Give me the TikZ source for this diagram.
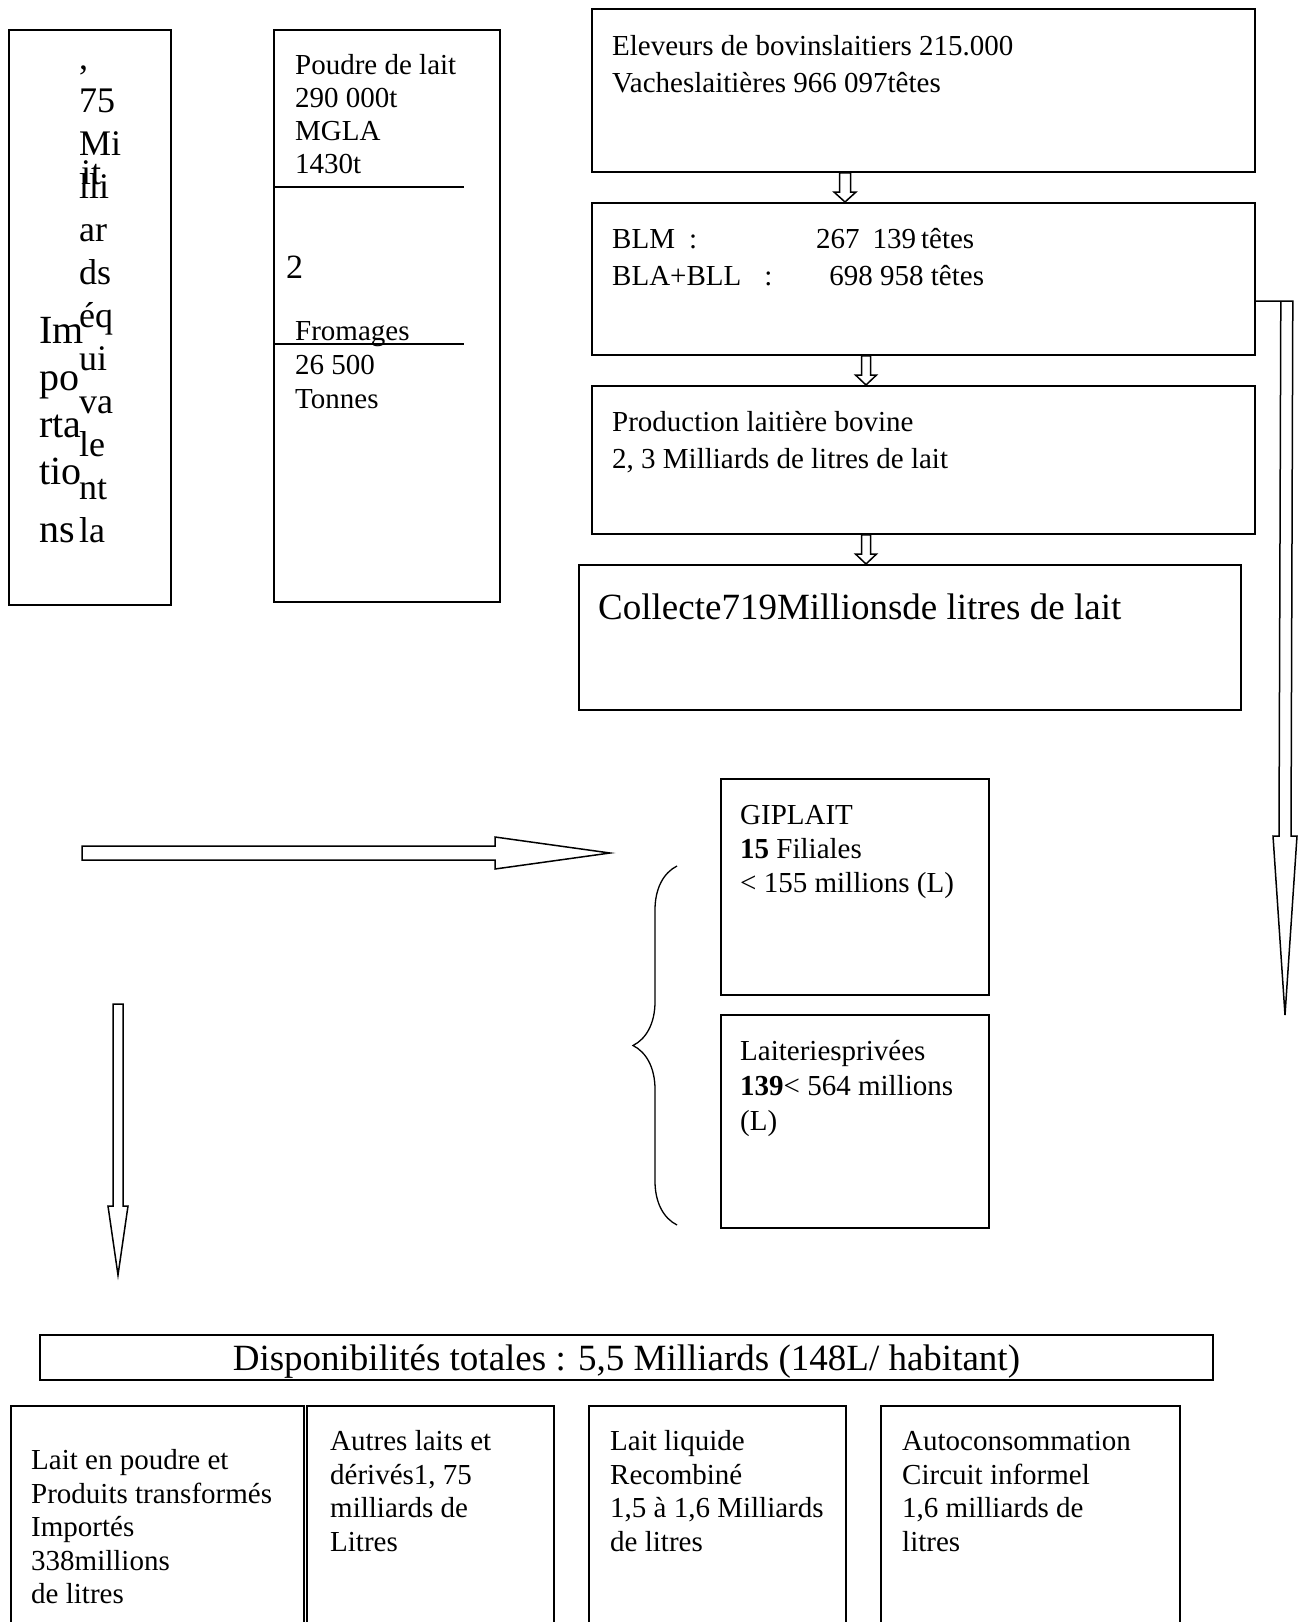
\documentclass[tikz,border=0pt]{standalone}
\usepackage{fontspec}
\setmainfont{Liberation Serif}
\usetikzlibrary{calc,decorations.pathreplacing}

\newcommand{\hollowdown}[5]{%
  \draw[arrowline] ($(#1)+(-#3,0)$) -- ($(#2)+(-#3,-#5)$) -- ($(#2)+(-#4,-#5)$) -- (#2)
    -- ($(#2)+(#4,-#5)$) -- ($(#2)+(#3,-#5)$) -- ($(#1)+(#3,0)$) -- cycle;}
\newcommand{\hollowright}[5]{%
  \draw[arrowline] ($(#1)+(0,-#3)$) -- ($(#2)+(-#5,-#3)$) -- ($(#2)+(-#5,-#4)$) -- (#2)
    -- ($(#2)+(-#5,#4)$) -- ($(#2)+(-#5,#3)$) -- ($(#1)+(0,#3)$) -- cycle;}

\begin{document}
\begin{tikzpicture}[x=1pt, y=-1pt,
		box/.style={draw, line width=1.8pt, inner sep=0pt, anchor=north west},
		txt/.style={inner sep=0pt, anchor=north west, align=left},
		arrowline/.style={line width=1.5pt}]
		\useasboundingbox (0,0) rectangle (1306,1622);

		\node[box, minimum width=162, minimum height=575] (imp) at (8,29) {};
		\node[txt, font=\fontsize{40}{47}\selectfont] (impa) at ($(imp.north west)+(31,281)$) {\strut Im\\po\\rta\\tio\\[11pt]ns};
		\node[txt, font=\fontsize{36}{43}\selectfont] (impb) at ($(imp.north west)+(71,10)$) {\strut ,\\75\\Mi\\lli\\ar\\ds\\éq\\ui\\va\\le\\nt\\la};
		\node[inner sep=0pt, anchor=base west, font=\fontsize{36}{43}\selectfont] (impit) at ($(imp.north west)+(73,155)$) {it};

		\node[box, minimum width=226, minimum height=572] (poudre) at (273,29) {};
		\node[txt, font=\fontsize{29}{33}\selectfont] (pltxt) at ($(poudre.north west)+(22,22)$) {\strut Poudre de lait\\290 000t\\MGLA\\1430t};
		\node[inner sep=0pt, anchor=base west, font=\fontsize{34}{40}\selectfont] (deux) at ($(poudre.north west)+(13,249)$) {2};
		\node[txt, font=\fontsize{29}{34}\selectfont] (fromtxt) at ($(poudre.north west)+(22,287)$) {\strut Fromages\\26 500\\Tonnes};
		\draw[line width=1.5pt] ($(poudre.north west)+(0,158)$) -- ++(191,0);
		\draw[line width=1.5pt] ($(poudre.north west)+(0,315)$) -- ++(191,0);

		\node[box, minimum width=663, minimum height=163] (elev) at (591,8) {};
		\node[txt, font=\fontsize{29}{37}\selectfont] (elevtxt) at ($(elev.north west)+(21,21)$) {\strut Eleveurs de bovinslaitiers 215.000\\Vacheslaitières 966 097têtes};
		\node[box, minimum width=663, minimum height=152] (blm) at (591,202) {};
		\node[txt, font=\fontsize{29}{37}\selectfont] (blmtxt) at ($(blm.north west)+(21,20)$) {\strut BLM\hspace{14pt}:\hspace{119pt}267\hspace{13pt}139\hspace{5pt}têtes\\BLA+BLL\hspace{23pt}:\hspace{57pt}698 958 têtes};
		\node[box, minimum width=663, minimum height=148] (prod) at (591,385) {};
		\node[txt, font=\fontsize{29}{37}\selectfont] (prodtxt) at ($(prod.north west)+(21,20)$) {\strut Production laitière bovine\\2, 3 Milliards de litres de lait};
		\node[box, minimum width=662, minimum height=145] (coll) at (578,564) {};
		\node[inner sep=0pt, anchor=base west, font=\fontsize{37}{44}\selectfont] (colltxt) at ($(coll.north west)+(20,55)$) {Collecte719Millionsde litres de lait};

		\coordinate (a1s) at ($(elev.south west)+(254,0)$);
		\coordinate (a1t) at ($(blm.north west)+(254,0)$);
		\coordinate (a2s) at ($(blm.south west)+(275,0)$);
		\coordinate (a2t) at ($(prod.north west)+(275,0)$);
		\coordinate (a3s) at ($(prod.south west)+(275,0)$);
		\coordinate (a3t) at ($(coll.north west)+(288,0)$);
		\hollowdown{a1s}{a1t}{5.5}{11}{10}
		\hollowdown{a2s}{a2t}{4.5}{10.5}{10}
		\hollowdown{a3s}{a3t}{4.5}{10.5}{10}

		\coordinate (rtop) at ($(blm.north east)+(0,99)$);
		\coordinate (rtip) at (1285,1015);
		\draw[arrowline] (rtop) -- ($(rtop)+(37,0)$) -- ($(rtip)+(6,-179)$) -- ($(rtip)+(12,-179)$) -- (rtip)
			-- ($(rtip)+(-12,-179)$) -- ($(rtip)+(-6,-179)$) -- ($(rtop)+(25,0)$);

		\node[box, minimum width=268, minimum height=216] (gip) at (720,778) {};
		\node[txt, font=\fontsize{29}{34}\selectfont] (giptxt) at ($(gip.north west)+(20,22)$) {\strut GIPLAIT\\\textbf{15} Filiales\\< 155 millions (L)};
		\node[box, minimum width=268, minimum height=213] (priv) at (720,1014) {};
		\node[txt, font=\fontsize{29}{35}\selectfont] (privtxt) at ($(priv.north west)+(20,22)$) {\strut Laiteriesprivées\\\textbf{139}< 564 millions\\(L)};
		\draw[line width=1.3pt, decorate, decoration={brace, amplitude=44pt}] (677,1225) -- (677,866);

		\coordinate (hstart) at (82,853);
		\coordinate (htip) at (610,853);
		\hollowright{hstart}{htip}{7}{16}{115}
		\coordinate (ldstart) at (118,1004);
		\coordinate (ldtip) at (118,1275);
		\hollowdown{ldstart}{ldtip}{5}{10}{69}

		\node[box, minimum width=1173, minimum height=45] (dispo) at (39,1334) {};
		\node[inner sep=0pt, anchor=base, font=\fontsize{37}{44}\selectfont] (dispotxt) at ($(dispo.south)+(0,-10)$) {Disponibilités totales : 5,5 Milliards (148L/ habitant)};

		\node[box, minimum width=293, minimum height=240] (impt) at (10,1405) {};
		\node[txt, font=\fontsize{29}{33.5}\selectfont] (impttxt) at ($(impt.north west)+(21,41)$) {\strut Lait en poudre et\\Produits transformés\\Importés\\338millions\\de litres};
		\node[box, minimum width=247, minimum height=240] (autres) at (306,1405) {};
		\node[txt, font=\fontsize{29}{33.5}\selectfont] (autrestxt) at ($(autres.north west)+(24,22)$) {\strut Autres laits et\\dérivés1, 75\\milliards de\\Litres};
		\node[box, minimum width=257, minimum height=240] (liq) at (588,1405) {};
		\node[txt, font=\fontsize{29}{33.5}\selectfont] (liqtxt) at ($(liq.north west)+(22,22)$) {\strut Lait liquide\\Recombiné\\1,5 à 1,6 Milliards\\de litres};
		\node[box, minimum width=299, minimum height=240] (auto) at (880,1405) {};
		\node[txt, font=\fontsize{29}{33.5}\selectfont] (autotxt) at ($(auto.north west)+(22,22)$) {\strut Autoconsommation\\Circuit informel\\1,6 milliards de\\litres};
	\end{tikzpicture}
\end{document}
